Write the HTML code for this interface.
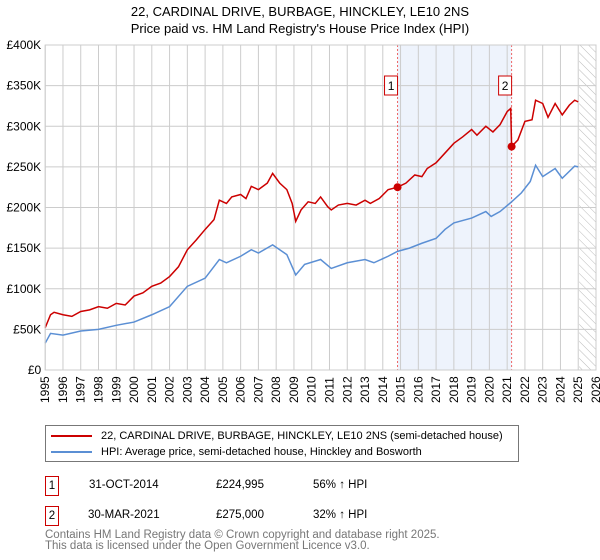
<!DOCTYPE html>
<html><head><meta charset="utf-8"><style>
body{margin:0;background:#fff;font-family:"Liberation Sans","DejaVu Sans",sans-serif;}
#wrap{position:relative;width:600px;height:560px;overflow:hidden;}
.t{position:absolute;white-space:nowrap;color:#000;}
</style></head><body>
<div id="wrap">
<div class="t" style="left:0;width:600px;text-align:center;top:3px;font-size:13px;line-height:17px;">22, CARDINAL DRIVE, BURBAGE, HINCKLEY, LE10 2NS<br>Price paid vs. HM Land Registry's House Price Index (HPI)</div>
<svg id="chart" width="600" height="420" style="position:absolute;left:0;top:0"></svg>
<div style="position:absolute;left:45px;top:425px;width:472px;height:35px;border:1px solid #777;font-size:11px;white-space:nowrap;">
<div style="position:absolute;left:5px;top:3px;line-height:14px;"><span style="display:inline-block;width:41px;height:2px;background:#cc0000;vertical-align:middle;margin-right:9px"></span>22, CARDINAL DRIVE, BURBAGE, HINCKLEY, LE10 2NS (semi-detached house)</div>
<div style="position:absolute;left:5px;top:19px;line-height:14px;"><span style="display:inline-block;width:41px;height:2px;background:#5b8fd4;vertical-align:middle;margin-right:9px"></span>HPI: Average price, semi-detached house, Hinckley and Bosworth</div>
</div>
<div>
<div class="t" style="left:45px;top:476px;width:12px;height:18px;border:1px solid #cc0000;font-size:11.5px;text-align:center;line-height:18px;">1</div>
<div class="t" style="left:89px;top:477px;font-size:11.5px;line-height:16px;">31-OCT-2014</div>
<div class="t" style="left:216px;top:477px;font-size:11.5px;line-height:16px;">£224,995</div>
<div class="t" style="left:313px;top:477px;font-size:11.5px;line-height:16px;">56% ↑ HPI</div>
</div>
<div>
<div class="t" style="left:45px;top:506px;width:12px;height:18px;border:1px solid #cc0000;font-size:11.5px;text-align:center;line-height:18px;">2</div>
<div class="t" style="left:88px;top:507px;font-size:11.5px;line-height:16px;">30-MAR-2021</div>
<div class="t" style="left:216px;top:507px;font-size:11.5px;line-height:16px;">£275,000</div>
<div class="t" style="left:313px;top:507px;font-size:11.5px;line-height:16px;">32% ↑ HPI</div>
</div>
<div class="t" style="left:45px;top:530px;font-size:11.5px;color:#777;line-height:11px;">Contains HM Land Registry data © Crown copyright and database right 2025.<br>This data is licensed under the Open Government Licence v3.0.</div>
</div>
<script>
const yearTicks=[1995,1996,1997,1998,1999,2000,2001,2002,2003,2004,2005,2006,2007,2008,2009,2010,2011,2012,2013,2014,2015,2016,2017,2018,2019,2020,2021,2022,2023,2024,2025,2026];
const priceTicks=[0,50,100,150,200,250,300,350,400];
const priceLabels=["£0","£50K","£100K","£150K","£200K","£250K","£300K","£350K","£400K"];
const redYears=[1995.0,1995.3,1995.5,1996,1996.5,1997,1997.5,1998,1998.5,1999,1999.5,2000,2000.5,2001,2001.5,2002,2002.5,2003,2003.5,2004,2004.5,2004.8,2005.2,2005.5,2006,2006.3,2006.6,2007,2007.5,2007.8,2008.2,2008.6,2008.9,2009.1,2009.4,2009.8,2010.2,2010.5,2010.9,2011.1,2011.5,2012,2012.5,2013,2013.3,2013.8,2014.3,2014.83,2015.3,2015.8,2016.2,2016.5,2017,2017.5,2018,2018.5,2019,2019.3,2019.8,2020.2,2020.6,2021.0,2021.2,2021.25,2021.6,2022,2022.4,2022.6,2023,2023.3,2023.7,2024.1,2024.5,2024.8,2025.0];
const redValues=[52,68,71,68,66,72,74,78,76,82,80,91,95,103,107,115,127,148,160,173,185,209,205,213,216,211,226,222,230,242,230,222,205,183,197,207,205,213,201,197,203,205,203,209,205,211,222,225,230,240,238,248,255,267,279,287,296,289,300,293,302,318,322,275,283,306,308,332,328,311,328,314,326,332,330];
const blueYears=[1995.0,1995.3,1996,1997,1998,1999,2000,2001,2002,2003,2004,2004.8,2005.2,2006,2006.6,2007,2007.8,2008.6,2009.1,2009.6,2010.5,2011.1,2012,2013,2013.5,2014.3,2014.83,2015.5,2016.2,2017,2017.5,2018,2019,2019.8,2020.1,2020.6,2021.25,2021.8,2022.3,2022.6,2023,2023.7,2024.1,2024.8,2025.0];
const blueValues=[33,45,43,48,50,55,59,68,78,103,113,136,132,140,148,144,154,142,117,130,136,125,132,136,132,140,146,150,156,162,173,181,187,195,189,195,207,218,232,252,238,248,236,251,250];
const saleYears=[2014.83,2021.25];
const saleValues=[224.995,275];
const saleLabels=["1","2"];

const L=45.2,R=596,T=45,B=370;
const X=y=>L+(y-1995)*(R-L)/31;
const Y=v=>B-v*(B-T)/400;
const svg=document.getElementById('chart');
const NS='http://www.w3.org/2000/svg';
function mk(tag,attrs){const e=document.createElementNS(NS,tag);for(const k in attrs)e.setAttribute(k,attrs[k]);svg.appendChild(e);return e;}
let e;
e=mk('rect',{x:X(saleYears[0]),y:T,width:X(saleYears[1])-X(saleYears[0]),height:B-T,fill:'#eef3fc'});


const defs=mk('defs',{});
defs.innerHTML='<pattern id="hatch" width="6" height="6" patternUnits="userSpaceOnUse" patternTransform="rotate(-45)"><line x1="0" y1="0" x2="0" y2="6" stroke="#bbb" stroke-width="1"/></pattern>';
e=mk('rect',{x:X(2025.05),y:T,width:R-X(2025.05),height:B-T,fill:'url(#hatch)'});


yearTicks.forEach(yr=>{
 e=mk('line',{x1:X(yr),x2:X(yr),y1:T,y2:B,stroke:'#ccc','stroke-width':1});
 
 
 e=mk('text',{x:0,y:0,transform:`translate(${X(yr)+4},${B+33}) rotate(-90)`,'font-size':12,'font-family':'Liberation Sans, DejaVu Sans, sans-serif'});
 e.textContent=yr;
 
 
});
priceTicks.forEach((v,i)=>{
 e=mk('line',{x1:L,x2:R,y1:Y(v),y2:Y(v),stroke:'#ccc','stroke-width':1});
 
 
 e=mk('text',{x:L-4,y:Y(v)+4,'text-anchor':'end','font-size':12,'font-family':'Liberation Sans, DejaVu Sans, sans-serif'});
 e.textContent=priceLabels[i];
 
 
});
saleYears.forEach((yr,i)=>{
 e=mk('line',{x1:X(yr),x2:X(yr),y1:T,y2:B,stroke:'#e66','stroke-width':1,'stroke-dasharray':'2,2'});
 
 
});
e=mk('polyline',{points:blueYears.map((y,i)=>X(y)+','+Y(blueValues[i])).join(' '),fill:'none',stroke:'#5b8fd4','stroke-width':1.5});


e=mk('polyline',{points:redYears.map((y,i)=>X(y)+','+Y(redValues[i])).join(' '),fill:'none',stroke:'#cc0000','stroke-width':1.5});


saleYears.forEach((yr,i)=>{
 e=mk('circle',{cx:X(yr),cy:Y(saleValues[i]),r:4,fill:'#cc0000'});
 
 
 e=mk('rect',{x:X(yr)-13,y:76,width:13,height:19,fill:'#fff',stroke:'#cc0000','stroke-width':1});
 
 
 e=mk('text',{x:X(yr)-6.5,y:90,'text-anchor':'middle','font-size':12,'font-family':'Liberation Sans, DejaVu Sans, sans-serif'});
 e.textContent=saleLabels[i];
 
 
});
e=mk('rect',{x:L,y:T,width:R-L,height:B-T,fill:'none',stroke:'#ccc','stroke-width':1});


</script>
</body></html>
